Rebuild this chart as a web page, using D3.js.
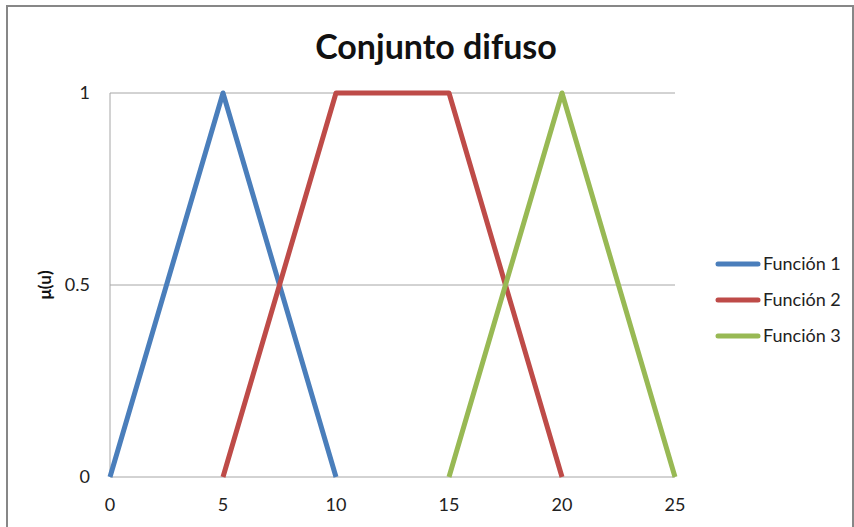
<!DOCTYPE html>
<html>
<head>
<meta charset="utf-8">
<script src="https://cdn.jsdelivr.net/npm/d3@7"></script>
<style>
  html, body { margin: 0; padding: 0; background: #fff; }
  svg { display: block; font-family: Lato, "Open Sans", sans-serif; }
</style>
</head>
<body>
<svg id="chart" width="854" height="527"></svg>
<script>
// Membership functions of the fuzzy set
const seriesNames = ["Función 1", "Función 2", "Función 3"];
const seriesColors = ["#4a7ebb", "#be4b48", "#98b954"];
const xFuncion1 = [0, 5, 10];
const yFuncion1 = [0, 1, 0];
const xFuncion2 = [5, 10, 15, 20];
const yFuncion2 = [0, 1, 1, 0];
const xFuncion3 = [15, 20, 25];
const yFuncion3 = [0, 1, 0];
const xTicks = [0, 5, 10, 15, 20, 25];
const yTicks = [0, 0.5, 1];

const series = [
  { name: seriesNames[0], color: seriesColors[0], pts: xFuncion1.map((x, i) => [x, yFuncion1[i]]) },
  { name: seriesNames[1], color: seriesColors[1], pts: xFuncion2.map((x, i) => [x, yFuncion2[i]]) },
  { name: seriesNames[2], color: seriesColors[2], pts: xFuncion3.map((x, i) => [x, yFuncion3[i]]) }
];

const svg = d3.select("#chart");

// chart frame
svg.append("rect")
  .attr("x", 7).attr("y", 6).attr("width", 846).attr("height", 530)
  .attr("fill", "none").attr("stroke", "#878787").attr("stroke-width", 2);

const x = d3.scaleLinear().domain([0, 25]).range([110, 675]);
const y = d3.scaleLinear().domain([0, 1]).range([477, 93]);

// horizontal gridlines
svg.append("g").selectAll("line").data(yTicks).join("line")
  .attr("x1", x(0)).attr("x2", x(25))
  .attr("y1", d => y(d)).attr("y2", d => y(d))
  .attr("stroke", "#a6a6a6").attr("stroke-width", 1);

// vertical axis line
svg.append("line")
  .attr("x1", x(0)).attr("x2", x(0)).attr("y1", y(1)).attr("y2", y(0))
  .attr("stroke", "#a6a6a6").attr("stroke-width", 1);

// x axis tick labels
svg.append("g").selectAll("text").data(xTicks).join("text")
  .attr("x", d => x(d)).attr("y", 511)
  .attr("text-anchor", "middle")
  .attr("font-size", 18).attr("fill", "#222")
  .text(d => d);

// y axis tick labels
svg.append("g").selectAll("text").data(yTicks).join("text")
  .attr("x", 90).attr("y", d => y(d) + 6)
  .attr("text-anchor", "end")
  .attr("font-size", 18).attr("fill", "#222")
  .text(d => d);

// y axis title
svg.append("text")
  .attr("transform", `translate(51, ${y(0.5)}) rotate(-90)`)
  .attr("text-anchor", "middle")
  .attr("font-size", 17).attr("font-weight", "bold").attr("fill", "#111")
  .text("μ(u)");

// chart title
svg.append("text")
  .attr("x", 436).attr("y", 59)
  .attr("text-anchor", "middle")
  .attr("font-size", 34).attr("font-weight", "bold").attr("fill", "#111")
  .text("Conjunto difuso");

// series lines
const line = d3.line().x(d => x(d[0])).y(d => y(d[1]));
svg.append("g").selectAll("path").data(series).join("path")
  .attr("d", d => line(d.pts))
  .attr("fill", "none")
  .attr("stroke", d => d.color)
  .attr("stroke-width", 5)
  .attr("stroke-linejoin", "round");

// legend
const legend = svg.append("g").selectAll("g").data(series).join("g")
  .attr("transform", (d, i) => `translate(0, ${264 + i * 36})`);
legend.append("line")
  .attr("x1", 718).attr("x2", 758).attr("y1", 0).attr("y2", 0)
  .attr("stroke", d => d.color).attr("stroke-width", 5)
  .attr("stroke-linecap", "round");
legend.append("text")
  .attr("x", 763).attr("y", 6)
  .attr("font-size", 18).attr("fill", "#222")
  .text(d => d.name);
</script>
</body>
</html>
